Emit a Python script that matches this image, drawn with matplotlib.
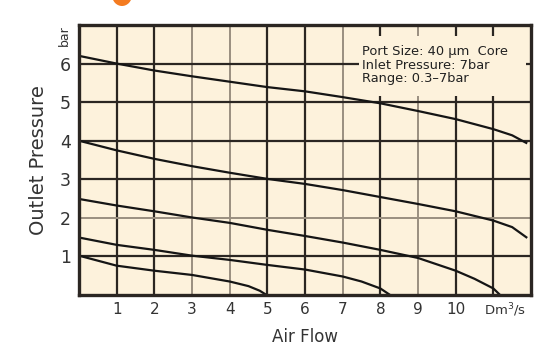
import matplotlib
matplotlib.use("Agg")
import matplotlib.pyplot as plt
import matplotlib.transforms as mtrans
from matplotlib.patches import Rectangle, Ellipse

# ---- data ----
c1_x = [0, 1, 2, 3, 4, 5, 6, 7, 8, 9, 10, 11, 11.5, 11.9]
c1_y = [6.2, 6.0, 5.82, 5.67, 5.53, 5.39, 5.28, 5.13, 4.97, 4.77, 4.56, 4.3, 4.14, 3.93]

c2_x = [0, 1, 2, 3, 4, 5, 6, 7, 8, 9, 10, 11, 11.5, 11.9]
c2_y = [4.0, 3.75, 3.53, 3.34, 3.17, 3.01, 2.88, 2.72, 2.54, 2.36, 2.17, 1.93, 1.76, 1.48]

c3_x = [0, 1, 2, 3, 4, 5, 6, 7, 8, 9, 10, 10.5, 11, 11.18]
c3_y = [2.49, 2.32, 2.17, 2.01, 1.87, 1.69, 1.53, 1.36, 1.17, 0.96, 0.63, 0.42, 0.17, 0.0]

c4_x = [0, 1, 2, 3, 4, 5, 6, 7, 7.5, 8, 8.26]
c4_y = [1.49, 1.30, 1.17, 1.02, 0.91, 0.78, 0.66, 0.48, 0.35, 0.17, 0.0]

c5_x = [0, 1, 2, 3, 4, 4.5, 4.8, 4.98]
c5_y = [1.02, 0.76, 0.63, 0.52, 0.35, 0.23, 0.11, 0.0]

curves = [(c1_x, c1_y), (c2_x, c2_y), (c3_x, c3_y), (c4_x, c4_y), (c5_x, c5_y)]

x_ticks = [1, 2, 3, 4, 5, 6, 7, 8, 9, 10, 11]
x_tick_labels = ['1', '2', '3', '4', '5', '6', '7', '8', '9', '10', 'Dm$^3$/s']
y_ticks = [1, 2, 3, 4, 5, 6]
y_tick_labels = ['1', '2', '3', '4', '5', '6']

info_lines = ["Port Size: 40 \u00b5m  Core", "Inlet Pressure: 7bar", "Range: 0.3\u20137bar"]
info_y = [6.32, 5.96, 5.61]

# ---- styling ----
bg = '#fdf2dc'
dark = '#2b2622'
light = '#9a8f80'
light_x = {3, 4, 7, 9}
light_y = {2}
txt = '#333333'

fig = plt.figure(figsize=(5.41, 3.46), dpi=100)
fig.patch.set_facecolor('white')
ax = fig.add_axes([79/541, 51/346, 452/541, 270/346])
ax.set_facecolor(bg)
ax.set_xlim(0, 12)
ax.set_ylim(0, 7)

for xv in x_ticks:
    ax.axvline(xv, color=light if xv in light_x else dark,
               lw=1.6 if xv not in light_x else 1.4, zorder=1)
for yv in y_ticks:
    ax.axhline(yv, color=light if yv in light_y else dark,
               lw=1.6 if yv not in light_y else 1.4, zorder=1)

# info box
ax.add_patch(Rectangle((7.43, 5.16), 4.45, 1.56, facecolor=bg, edgecolor='none', zorder=2))
for t, yy in zip(info_lines, info_y):
    ax.text(7.5, yy, t, fontsize=9.4, color='#222222',
            va='center', ha='left', zorder=3)

for cx, cy in curves:
    ax.plot(cx, cy, color='#151515', lw=1.6, zorder=4, solid_capstyle='butt')

for s in ax.spines.values():
    s.set_linewidth(2.4)
    s.set_color(dark)
    s.set_zorder(5)

ax.set_xticks(x_ticks)
ax.set_xticklabels(x_tick_labels)
ax.set_yticks(y_ticks)
ax.set_yticklabels(y_tick_labels)
ax.tick_params(axis='x', length=0, labelsize=11, colors=txt, pad=5)
ax.tick_params(axis='y', length=0, labelsize=12.5, colors=txt, pad=6)
last = ax.get_xticklabels()[-1]
last.set_fontsize(9.5)
last.set_transform(last.get_transform() +
                   mtrans.ScaledTranslation(12/100, 1/100, fig.dpi_scale_trans))

ax.text(-0.38, 7.0, 'bar', rotation=90, fontsize=9, color=txt,
        ha='center', va='top')

ax.set_ylabel('Outlet Pressure', fontsize=14, color=txt, labelpad=8)
ax.set_xlabel('Air Flow', fontsize=12, color=txt, labelpad=7)

# decorative orange arc at top
fig.patches.append(Ellipse((122/541, 1 + 5/346), 20/541, 22/346,
                           transform=fig.transFigure, facecolor='#f47b20',
                           edgecolor='none'))

fig.savefig('out.png', dpi=100)
